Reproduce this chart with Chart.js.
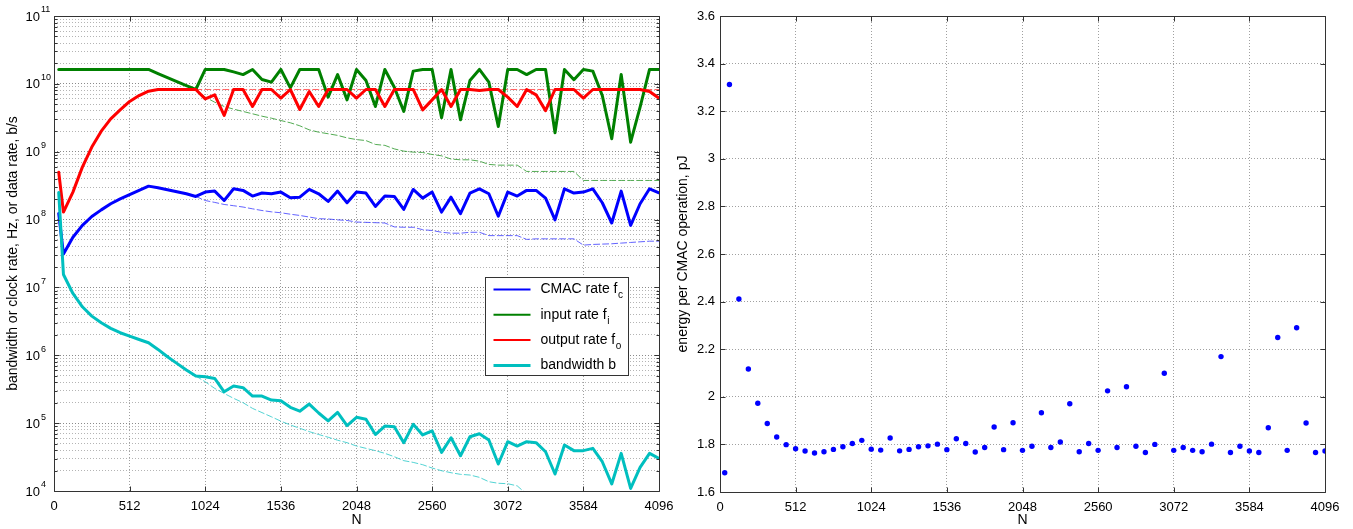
<!DOCTYPE html>
<html>
<head>
<meta charset="utf-8">
<script src="https://cdn.jsdelivr.net/npm/chart.js@4.4.1/dist/chart.umd.min.js"></script>
<style>
  html, body { margin: 0; padding: 0; background: #fff; }
  #wrap { position: relative; width: 1353px; height: 529px; overflow: hidden; }
  #rateBox { position: absolute; left: 0; top: 0; width: 680px; height: 529px; }
  #energyBox { position: absolute; left: 668px; top: 0; width: 685px; height: 529px; }
</style>
</head>
<body>
<div id="wrap">
  <div id="rateBox"><canvas id="rateChart" width="680" height="529"></canvas></div>
  <div id="energyBox"><canvas id="energyChart" width="685" height="529"></canvas></div>
</div>
<script>
const FONT = '"Liberation Sans", Arial, Helvetica, sans-serif';
Chart.defaults.font.family = FONT;
Chart.defaults.font.size = 13;
Chart.defaults.color = '#000';

// transform size N (same for both panels)
const nValues = [32, 64, 128, 192, 256, 320, 384, 448, 512, 576, 640, 704, 768, 832, 896, 960,
  1024, 1088, 1152, 1216, 1280, 1344, 1408, 1472, 1536, 1600, 1664, 1728, 1792, 1856, 1920, 1984,
  2048, 2112, 2176, 2240, 2304, 2368, 2432, 2496, 2560, 2624, 2688, 2752, 2816, 2880, 2944, 3008,
  3072, 3136, 3200, 3264, 3328, 3392, 3456, 3520, 3584, 3648, 3712, 3776, 3840, 3904, 3968, 4032, 4096];

// left panel, Hz or b/s
const cmacRate = [1.23e8, 3.1e7, 5.5e7, 8.2e7, 1.11e8, 1.39e8, 1.71e8, 2.02e8, 2.34e8, 2.69e8, 3.11e8,
  2.94e8, 2.75e8, 2.57e8, 2.40e8, 2.19e8, 2.54e8, 2.63e8, 1.91e8, 2.84e8, 2.69e8, 2.22e8, 2.46e8,
  2.40e8, 2.54e8, 2.10e8, 2.14e8, 2.78e8, 2.40e8, 1.85e8, 2.63e8, 1.77e8, 2.54e8, 2.46e8, 1.56e8,
  2.22e8, 2.19e8, 1.41e8, 2.78e8, 2.07e8, 2.54e8, 1.29e8, 2.14e8, 1.22e8, 2.46e8, 2.84e8, 2.40e8,
  1.12e8, 2.54e8, 2.22e8, 2.69e8, 2.69e8, 2.07e8, 9.9e7, 2.84e8, 2.46e8, 2.54e8, 2.84e8, 1.77e8,
  8.9e7, 2.63e8, 8.2e7, 1.71e8, 2.84e8, 2.48e8];

const inputRate = [1.63e10, 1.63e10, 1.63e10, 1.63e10, 1.63e10, 1.63e10, 1.63e10, 1.63e10, 1.63e10,
  1.63e10, 1.63e10, 1.42e10, 1.24e10, 1.08e10, 9.45e9, 8.26e9, 1.63e10, 1.63e10, 1.63e10, 1.50e10,
  1.37e10, 1.63e10, 1.16e10, 1.06e10, 1.63e10, 8.73e9, 1.63e10, 1.63e10, 1.63e10, 6.37e9, 1.37e10,
  5.81e9, 1.63e10, 1.12e10, 4.64e9, 1.63e10, 8.93e9, 3.92e9, 1.54e10, 1.63e10, 1.63e10, 3.16e9,
  1.63e10, 2.95e9, 1.12e10, 1.63e10, 1.06e10, 2.35e9, 1.63e10, 1.63e10, 1.37e10, 1.63e10, 1.63e10,
  1.90e9, 1.63e10, 1.15e10, 1.63e10, 1.54e10, 6.73e9, 1.55e9, 1.37e10, 1.38e9, 4.53e9, 1.63e10, 1.63e10];

const outputRate = [5.0e8, 1.29e8, 2.54e8, 5.93e8, 1.17e9, 2.01e9, 3.05e9, 4.14e9, 5.50e9, 6.73e9,
  7.80e9, 8.26e9, 8.26e9, 8.26e9, 8.26e9, 8.26e9, 6.0e9, 6.9e9, 3.42e9, 8.26e9, 8.26e9, 4.64e9,
  8.26e9, 8.26e9, 6.15e9, 8.26e9, 4.19e9, 7.7e9, 4.64e9, 8.26e9, 8.26e9, 8.26e9, 6.15e9, 8.26e9,
  8.26e9, 4.64e9, 8.26e9, 8.26e9, 8.26e9, 4.14e9, 5.81e9, 8.26e9, 4.64e9, 8.26e9, 8.26e9, 7.98e9,
  8.26e9, 8.26e9, 6.37e9, 4.64e9, 8.26e9, 6.89e9, 4.03e9, 8.26e9, 8.26e9, 8.26e9, 6.15e9, 8.26e9,
  8.26e9, 8.26e9, 8.26e9, 8.26e9, 8.26e9, 7.7e9, 6.15e9];

const bandwidth = [2.5e8, 1.55e7, 8.15e6, 5.19e6, 3.78e6, 3.01e6, 2.49e6, 2.15e6, 1.92e6, 1.71e6,
  1.53e6, 1.22e6, 9.5e5, 7.6e5, 6.05e5, 4.94e5, 4.83e5, 4.56e5, 2.90e5, 3.52e5, 3.33e5, 2.51e5,
  2.51e5, 2.19e5, 2.14e5, 1.71e5, 1.50e5, 1.91e5, 1.41e5, 1.08e5, 1.44e5, 9.2e4, 1.22e5, 1.14e5,
  6.8e4, 9.06e4, 8.85e4, 5.15e4, 9.6e4, 6.7e4, 7.7e4, 3.71e4, 6.1e4, 3.31e4, 6.3e4, 6.98e4, 5.64e4,
  2.50e4, 5.33e4, 4.60e4, 5.33e4, 5.15e4, 3.79e4, 1.78e4, 4.75e4, 3.93e4, 3.93e4, 4.25e4, 2.70e4,
  1.27e4, 3.59e4, 1.09e4, 2.23e4, 3.59e4, 3.03e4];

// thin dashed curves, from N = 960 on
const cmacBound = [null, null, null, null, null, null, null, null, null, null, null, null, null, null, null,
  2.19e8, 1.91e8, 1.79e8, 1.67e8, 1.60e8, 1.53e8, 1.44e8, 1.36e8, 1.30e8, 1.26e8, 1.20e8, 1.15e8,
  1.09e8, 1.03e8, 1.02e8, 9.9e7, 9.7e7, 9.2e7, 9.1e7, 9.0e7, 8.9e7, 7.8e7, 7.7e7, 7.7e7, 7.1e7,
  6.9e7, 6.5e7, 6.3e7, 6.3e7, 6.5e7, 6.5e7, 5.8e7, 5.8e7, 5.8e7, 5.8e7, 5.1e7, 5.2e7, 5.2e7, 5.2e7,
  5.2e7, 5.2e7, 4.2e7, 4.3e7, 4.35e7, 4.4e7, 4.5e7, 4.6e7, 4.7e7, 4.8e7, 4.8e7];

const inputBound = [null, null, null, null, null, null, null, null, null, null, null, null, null, null, null,
  8.26e9, 6.37e9, 5.37e9, 4.64e9, 4.24e9, 3.92e9, 3.62e9, 3.34e9, 3.12e9, 2.88e9, 2.67e9, 2.41e9,
  2.10e9, 1.94e9, 1.84e9, 1.74e9, 1.60e9, 1.51e9, 1.46e9, 1.28e9, 1.24e9, 1.10e9, 1.02e9, 9.86e8,
  9.75e8, 9.1e8, 8.7e8, 7.8e8, 7.6e8, 7.6e8, 7.26e8, 6.5e8, 6.34e8, 6.34e8, 6.34e8, 5.12e8, 5.12e8,
  5.12e8, 5.12e8, 5.12e8, 5.12e8, 3.77e8, 3.77e8, 3.77e8, 3.77e8, 3.77e8, 3.77e8, 3.77e8, 3.77e8, 3.77e8];

const outputBound = [null, null, null, null, null, null, null, null, null, null, null, null, null, null, null,
  8.26e9, 8.26e9, 8.26e9, 8.26e9, 8.26e9, 8.26e9, 8.26e9, 8.26e9, 8.26e9, 8.26e9, 8.26e9, 8.26e9,
  8.26e9, 8.26e9, 8.26e9, 8.26e9, 8.26e9, 8.26e9, 8.26e9, 8.26e9, 8.26e9, 8.26e9, 8.26e9, 8.26e9,
  8.26e9, 8.26e9, 8.26e9, 8.26e9, 8.26e9, 8.26e9, 8.26e9, 8.26e9, 8.26e9, 8.26e9, 8.26e9, 8.26e9,
  8.26e9, 8.26e9, 8.26e9, 8.26e9, 8.26e9, 8.26e9, 8.26e9, 8.26e9, 8.26e9, 8.26e9, 8.26e9, 8.26e9,
  8.26e9, 8.26e9];

const bandwidthBound = [null, null, null, null, null, null, null, null, null, null, null, null, null, null, null,
  4.94e5, 4.07e5, 3.25e5, 2.74e5, 2.32e5, 2.00e5, 1.65e5, 1.43e5, 1.24e5, 1.07e5, 9.4e4, 8.4e4,
  7.5e4, 6.8e4, 6.2e4, 5.6e4, 5.15e4, 4.6e4, 4.25e4, 3.93e4, 3.59e4, 3.2e4, 2.80e4, 2.64e4, 2.44e4,
  2.18e4, 1.99e4, 1.86e4, 1.76e4, 1.72e4, 1.59e4, 1.37e4, 1.30e4, 1.28e4, 1.19e4, 9.0e3];

// right panel, pJ
const energyPerOp = [1.681, 3.312, 2.411, 2.117, 1.973, 1.888, 1.831, 1.799, 1.782, 1.772, 1.764,
  1.769, 1.779, 1.790, 1.804, 1.817, 1.780, 1.776, 1.827, 1.773, 1.779, 1.790, 1.794, 1.801, 1.778,
  1.824, 1.804, 1.768, 1.787, 1.873, 1.778, 1.891, 1.775, 1.792, 1.933, 1.787, 1.810, 1.971, 1.769,
  1.804, 1.775, 2.025, 1.787, 2.042, 1.792, 1.766, 1.800, 2.099, 1.775, 1.787, 1.775, 1.769, 1.801,
  2.169, 1.766, 1.792, 1.772, 1.766, 1.870, 2.249, 1.775, 2.290, 1.890, 1.766, 1.772];

const legendText = ['CMAC rate f', 'input rate f', 'output rate f', 'bandwidth b'];
const legendSub = ['c', 'i', 'o', ''];
const decadeExps = [4, 5, 6, 7, 8, 9, 10, 11];
const nTickStep = 512;

function pts(vals) {
  return nValues.map((n, i) => ({ x: n, y: vals[i] }));
}

function isDecade(v) {
  const l = Math.log10(v);
  return Math.abs(l - Math.round(l)) < 1e-9;
}

function logTicks() {
  const t = [];
  decadeExps.forEach((e, i) => {
    for (let m = 1; m <= 9; m++) {
      if (i === decadeExps.length - 1 && m > 1) break;
      t.push({ value: m * Math.pow(10, e) });
    }
  });
  return t;
}

// box round the axes and matlab style inward ticks
const frameTicks = {
  id: 'frameTicks',
  afterDraw(chart) {
    const { ctx, chartArea: a } = chart;
    const xs = chart.scales.x, ys = chart.scales.y;
    const L = Math.round(a.left) + 0.5, R = Math.round(a.right) + 0.5;
    const T = Math.round(a.top) + 0.5, B = Math.round(a.bottom) + 0.5;
    ctx.save();
    ctx.strokeStyle = '#333';
    ctx.lineWidth = 1;
    ctx.beginPath();
    ctx.rect(L, T, R - L, B - T);
    xs.ticks.forEach(t => {
      const px = Math.round(xs.getPixelForValue(t.value)) + 0.5;
      ctx.moveTo(px, B); ctx.lineTo(px, B - 5);
      ctx.moveTo(px, T); ctx.lineTo(px, T + 5);
    });
    ys.ticks.forEach(t => {
      const py = Math.round(ys.getPixelForValue(t.value)) + 0.5;
      const len = (ys.type !== 'logarithmic' || isDecade(t.value)) ? 5 : 3;
      ctx.moveTo(L, py); ctx.lineTo(L + len, py);
      ctx.moveTo(R, py); ctx.lineTo(R - len, py);
    });
    ctx.stroke();
    ctx.restore();
  }
};

// 10 with superscript exponent on the log axis
const powerLabels = {
  id: 'powerLabels',
  afterDraw(chart) {
    const { ctx } = chart;
    const ys = chart.scales.y;
    ctx.save();
    ctx.fillStyle = '#000';
    ctx.textBaseline = 'middle';
    decadeExps.forEach(e => {
      const py = ys.getPixelForValue(Math.pow(10, e));
      ctx.font = '13px ' + FONT;
      ctx.textAlign = 'right';
      ctx.fillText('10', 40, py + 1);
      ctx.font = '9px ' + FONT;
      ctx.textAlign = 'left';
      ctx.fillText(String(e), 41, py - 6);
    });
    ctx.restore();
  }
};

const rateLegend = {
  id: 'rateLegend',
  afterDraw(chart) {
    const { ctx, chartArea: a } = chart;
    const bx = Math.round(a.right) - 173.5, by = Math.round(a.top) + 261.5;
    const bw = 143, bh = 98;
    ctx.save();
    ctx.fillStyle = '#fff';
    ctx.fillRect(bx, by, bw, bh);
    ctx.strokeStyle = '#333';
    ctx.lineWidth = 1;
    ctx.strokeRect(bx, by, bw, bh);
    const items = [0, 1, 2, 3];
    items.forEach(i => {
      const ds = chart.data.datasets[i];
      const ry = by + 12 + i * 25.3;
      ctx.strokeStyle = ds.borderColor;
      ctx.lineWidth = i === 3 ? 3 : 2;
      ctx.beginPath();
      ctx.moveTo(bx + 8, ry); ctx.lineTo(bx + 45, ry);
      ctx.stroke();
      ctx.fillStyle = '#000';
      ctx.textBaseline = 'middle';
      ctx.textAlign = 'left';
      ctx.font = '14px ' + FONT;
      ctx.fillText(legendText[i], bx + 55, ry);
      if (legendSub[i]) {
        const w = ctx.measureText(legendText[i]).width;
        ctx.font = '10px ' + FONT;
        ctx.fillText(legendSub[i], bx + 55 + w + 0.5, ry + 6);
      }
    });
    ctx.restore();
  }
};

function xAxis(height) {
  return {
    type: 'linear', min: 0, max: 4096,
    ticks: { stepSize: nTickStep, autoSkip: false, maxRotation: 0, padding: 8,
      callback: v => String(v), font: { size: 13 } },
    grid: { color: '#a0a0a0', lineWidth: 1, drawTicks: false },
    border: { display: false, dash: [1, 2] },
    title: { display: true, text: 'N', font: { size: 14 }, padding: { top: 0, bottom: 0 } },
    afterFit: s => { s.height = height; s.paddingLeft = 0; s.paddingRight = 0; }
  };
}

new Chart(document.getElementById('rateChart'), {
  type: 'line',
  data: {
    datasets: [
      { label: 'CMAC rate', data: pts(cmacRate), borderColor: '#0000ff', borderWidth: 3, order: 4 },
      { label: 'input rate', data: pts(inputRate), borderColor: '#008000', borderWidth: 3, order: 3 },
      { label: 'output rate', data: pts(outputRate), borderColor: '#ff0000', borderWidth: 3, order: 2 },
      { label: 'bandwidth', data: pts(bandwidth), borderColor: '#00bfbf', borderWidth: 3, order: 1 },
      { label: 'CMAC bound', data: pts(cmacBound), borderColor: 'rgba(60,60,255,0.8)', borderWidth: 1, borderDash: [6, 3], order: 8 },
      { label: 'input bound', data: pts(inputBound), borderColor: 'rgba(40,150,40,0.8)', borderWidth: 1, borderDash: [6, 3], order: 7 },
      { label: 'output bound', data: pts(outputBound), borderColor: 'rgba(255,60,60,0.8)', borderWidth: 1, borderDash: [6, 3], order: 6 },
      { label: 'bandwidth bound', data: pts(bandwidthBound), borderColor: 'rgba(40,200,200,0.8)', borderWidth: 1, borderDash: [6, 3], order: 5 }
    ]
  },
  options: {
    responsive: false,
    animation: false,
    events: [],
    elements: { point: { radius: 0 }, line: { tension: 0, borderCapStyle: 'round', borderJoinStyle: 'round' } },
    layout: { padding: { top: 16, right: 21, left: 0, bottom: 0 } },
    scales: {
      x: xAxis(38),
      y: {
        type: 'logarithmic', min: 1e4, max: 1e11,
        afterBuildTicks: s => { s.ticks = logTicks(); },
        ticks: { display: false, autoSkip: false },
        grid: { color: c => isDecade(c.tick.value) ? '#8a8a8a' : '#b4b4b4', lineWidth: 1, drawTicks: false },
        border: { display: false, dash: [1, 2] },
        title: { display: true, text: 'bandwidth or clock rate, Hz, or data rate, b/s',
          font: { size: 14 }, padding: { top: 5, bottom: 0 } },
        afterFit: s => { s.width = 54; s.paddingTop = 0; s.paddingBottom = 0; }
      }
    },
    plugins: { legend: { display: false }, tooltip: { enabled: false } }
  },
  plugins: [frameTicks, powerLabels, rateLegend]
});

new Chart(document.getElementById('energyChart'), {
  type: 'scatter',
  data: {
    datasets: [
      { label: 'energy per CMAC operation', data: pts(energyPerOp), backgroundColor: '#0000ff',
        borderWidth: 0, pointRadius: 2.7 }
    ]
  },
  options: {
    responsive: false,
    animation: false,
    events: [],
    layout: { padding: { top: 16, right: 28, left: 0, bottom: 0 } },
    scales: {
      x: xAxis(37),
      y: {
        type: 'linear', min: 1.6, max: 3.6,
        ticks: { stepSize: 0.2, padding: 5, font: { size: 13 },
          callback: v => String(Math.round(v * 10) / 10) },
        grid: { color: '#a0a0a0', lineWidth: 1, drawTicks: false },
        border: { display: false, dash: [1, 2] },
        title: { display: true, text: 'energy per CMAC operation, pJ', font: { size: 14 },
          padding: { top: 7, bottom: 0 } },
        afterFit: s => { s.width = 52; s.paddingTop = 0; s.paddingBottom = 0; }
      }
    },
    plugins: { legend: { display: false }, tooltip: { enabled: false } }
  },
  plugins: [frameTicks]
});
</script>
</body>
</html>
